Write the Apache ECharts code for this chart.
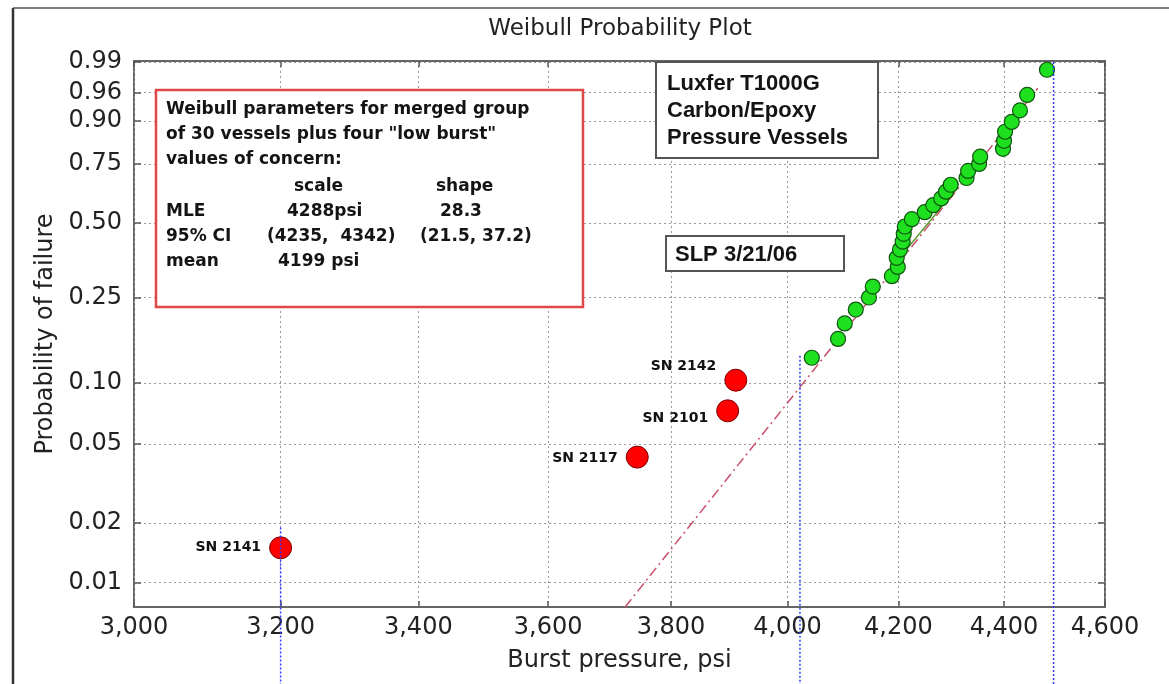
<!DOCTYPE html>
<html><head><meta charset="utf-8">
<script src="https://cdn.jsdelivr.net/npm/echarts@6/dist/echarts.min.js"></script>
<style>html,body{margin:0;padding:0;background:#fff;}#c{width:1169px;height:684px;}</style>
</head><body><div id="c"></div>
<script>
// ---- tick values and labels ----
const xTicks = [3000, 3200, 3400, 3600, 3800, 4000, 4200, 4400, 4600];
const xTickLabels = ['3,000', '3,200', '3,400', '3,600', '3,800', '4,000', '4,200', '4,400', '4,600'];
const yTicks = [0.01, 0.02, 0.05, 0.10, 0.25, 0.50, 0.75, 0.90, 0.96, 0.99];
const yTickLabels = ['0.01', '0.02', '0.05', '0.10', '0.25', '0.50', '0.75', '0.90', '0.96', '0.99'];

// ---- 30 vessels (green) ----
const greenPressure = [4043, 4090, 4102, 4122, 4146, 4153, 4188, 4199, 4197, 4203,
                       4208, 4210, 4212, 4225, 4249, 4265, 4280, 4289, 4298, 4328,
                       4331, 4352, 4354, 4398, 4400, 4402, 4415, 4431, 4445, 4484];
const greenProb = [0.132, 0.162, 0.191, 0.221, 0.250, 0.279, 0.309, 0.338, 0.368, 0.397,
                   0.426, 0.456, 0.485, 0.515, 0.544, 0.574, 0.603, 0.632, 0.662, 0.691,
                   0.721, 0.750, 0.779, 0.809, 0.838, 0.868, 0.897, 0.926, 0.956, 0.985];

// ---- four "low burst" values (red) ----
const redNames = ['SN 2141', 'SN 2117', 'SN 2101', 'SN 2142'];
const redPressure = [3200, 3744, 3896, 3910];
const redProb = [0.015, 0.043, 0.073, 0.103];
const redLabelDy = [0, 1, 8, -14];

// ---- fitted line endpoints and local fit segment ----
const fitPressure = [3724, 4466];
const fitProb = [0.0075, 0.966];
const segPressure = [4216, 4310];
const segProb = [0.400, 0.647];

// ---- blue dotted marker lines ----
const markerPressure = [3200, 4022, 4497];
const markerTopProb = [0.019, 0.135, 0.99];

// ---- axis range ----
const xRange = [3000, 4600];
const yRange = [0.0075, 0.9905];

const W = p => Math.log(-Math.log(1 - p));
const L = x => Math.log(x);
const FONT = 'DejaVu Sans';

function findLabel(v, ticks, labels) {
  let best = 0, bd = Infinity;
  ticks.forEach((t, i) => { const d = Math.abs(t - v); if (d < bd) { bd = d; best = i; } });
  return labels[best];
}
const xLogTicks = xTicks.map(L);
const yWTicks = yTicks.map(W);

const chart = echarts.init(document.getElementById('c'), null, { renderer: 'canvas' });

const splitStyle = { show: true, lineStyle: { color: '#9a9a9a', width: 1, type: [2, 3] } };

function xAxisCfg(pos, showLabels) {
  return {
    type: 'value', position: pos, min: L(xRange[0]), max: L(xRange[1]),
    axisLine: { show: false, onZero: false },
    axisTick: { show: true, inside: true, length: 6, customValues: xLogTicks, lineStyle: { color: '#555', width: 1.5 } },
    axisLabel: {
      show: showLabels, customValues: xLogTicks, margin: 9,
      fontFamily: FONT, fontSize: 24, color: '#222',
      formatter: v => findLabel(v, xLogTicks, xTickLabels)
    },
    splitLine: showLabels ? splitStyle : { show: false },
    name: showLabels ? 'Burst pressure, psi' : '',
    nameLocation: 'middle', nameGap: 42,
    nameTextStyle: { fontFamily: FONT, fontSize: 24, color: '#222' }
  };
}
function yAxisCfg(pos, showLabels) {
  return {
    type: 'value', position: pos, min: W(yRange[0]), max: W(yRange[1]),
    axisLine: { show: false, onZero: false },
    axisTick: { show: true, inside: true, length: 7, customValues: yWTicks, lineStyle: { color: '#555', width: 1.5 } },
    axisLabel: {
      show: showLabels, customValues: yWTicks, margin: 12,
      fontFamily: FONT, fontSize: 24, color: '#222',
      formatter: v => findLabel(v, yWTicks, yTickLabels)
    },
    splitLine: showLabels ? splitStyle : { show: false },
    name: showLabels ? 'Probability of failure' : '',
    nameLocation: 'middle', nameGap: 70, nameRotate: 90,
    nameTextStyle: { fontFamily: FONT, fontSize: 24, color: '#222' }
  };
}

const greenData = greenPressure.map((x, i) => [L(x), W(greenProb[i])]);
const redData = redPressure.map((x, i) => ({
  value: [L(x), W(redProb[i])], name: redNames[i],
  label: { offset: [0, redLabelDy[i]] }
}));

function boxText(x, y, text, font, size, align) {
  return { type: 'text', x: x, y: y, z: 20,
    style: { text: text, fill: '#141414', font: 'bold ' + size + 'px "' + font + '"', textAlign: align || 'left', textVerticalAlign: 'middle' } };
}
const rbF = 'DejaVu Sans', rbS = 17;

const option = {
  animation: false,
  backgroundColor: '#fff',
  grid: { left: 134, right: 64, top: 61, bottom: 77, show: true, borderColor: '#666', borderWidth: 2, backgroundColor: 'transparent' },
  xAxis: [xAxisCfg('bottom', true), xAxisCfg('top', false)],
  yAxis: [yAxisCfg('left', true), yAxisCfg('right', false)],
  series: [
    {
      type: 'line', data: fitPressure.map((x, i) => [L(x), W(fitProb[i])]),
      symbol: 'none', silent: true, z: 2,
      lineStyle: { color: '#c8506a', width: 1.5, type: [10, 4, 2, 4] }
    },
    {
      type: 'line', data: segPressure.map((x, i) => [L(x), W(segProb[i])]),
      symbol: 'none', silent: true, z: 3,
      lineStyle: { color: '#5f9a35', width: 1.5 }
    },
    {
      type: 'scatter', data: greenData, symbolSize: 15, z: 5,
      itemStyle: { color: '#1fe01f', borderColor: '#0f550f', borderWidth: 1.2, opacity: 1 }
    },
    {
      type: 'scatter', data: redData, symbolSize: 22, z: 5,
      itemStyle: { color: '#ff0000', borderColor: '#7a0000', borderWidth: 1, opacity: 1 },
      label: { show: true, position: 'left', distance: 8, formatter: '{b}',
        fontFamily: FONT, fontWeight: 'bold', fontSize: 14, color: '#111' }
    }
  ],
  graphic: [
    // outer frame
    { type: 'line', shape: { x1: 13, y1: 8, x2: 13, y2: 684 }, style: { stroke: '#333', lineWidth: 2.5 } },
    { type: 'line', shape: { x1: 13, y1: 8, x2: 1169, y2: 8 }, style: { stroke: '#555', lineWidth: 1.5 } },
    // title
    { type: 'text', x: 620, y: 29, style: { text: 'Weibull Probability Plot', fill: '#222', font: '23px "DejaVu Sans"', textAlign: 'center', textVerticalAlign: 'middle' } },
    // red parameter box
    { type: 'rect', z: 19, shape: { x: 156, y: 90, width: 427, height: 217 }, style: { fill: '#fff', stroke: '#e04848', lineWidth: 2.5 } },
    boxText(166, 110, 'Weibull parameters for merged group', rbF, rbS),
    boxText(166, 135, 'of 30 vessels plus four "low burst"', rbF, rbS),
    boxText(166, 160, 'values of concern:', rbF, rbS),
    boxText(294, 187, 'scale', rbF, rbS),
    boxText(436, 187, 'shape', rbF, rbS),
    boxText(166, 212, 'MLE', rbF, rbS),
    boxText(287, 212, '4288psi', rbF, rbS),
    boxText(440, 212, '28.3', rbF, rbS),
    boxText(166, 237, '95% CI', rbF, rbS),
    boxText(267, 237, '(4235,  4342)', rbF, rbS),
    boxText(420, 237, '(21.5, 37.2)', rbF, rbS),
    boxText(166, 262, 'mean', rbF, rbS),
    boxText(278, 262, '4199 psi', rbF, rbS),
    // Luxfer box
    { type: 'rect', z: 19, shape: { x: 656, y: 62, width: 222, height: 96 }, style: { fill: '#fff', stroke: '#555', lineWidth: 2 } },
    boxText(667, 84, 'Luxfer T1000G', 'Liberation Sans', 22),
    boxText(667, 111, 'Carbon/Epoxy', 'Liberation Sans', 22),
    boxText(667, 138, 'Pressure Vessels', 'Liberation Sans', 22),
    // SLP box
    { type: 'rect', z: 19, shape: { x: 666, y: 236, width: 178, height: 35 }, style: { fill: '#fff', stroke: '#555', lineWidth: 2 } },
    boxText(675, 255, 'SLP 3/21/06', 'Liberation Sans', 22)
  ]
};
chart.setOption(option);

// blue dotted marker lines, positioned through the chart's own scales
const markers = markerPressure.map((x, i) => {
  const top = chart.convertToPixel({ xAxisIndex: 0, yAxisIndex: 0 }, [L(x), W(markerTopProb[i])]);
  return { type: 'line', z: 30, silent: true,
    shape: { x1: top[0], y1: top[1], x2: top[0], y2: 684 },
    style: { stroke: '#2a3cff', lineWidth: 1.5, lineDash: [2, 2] } };
});
chart.setOption({ graphic: option.graphic.concat(markers) });
</script></body></html>
